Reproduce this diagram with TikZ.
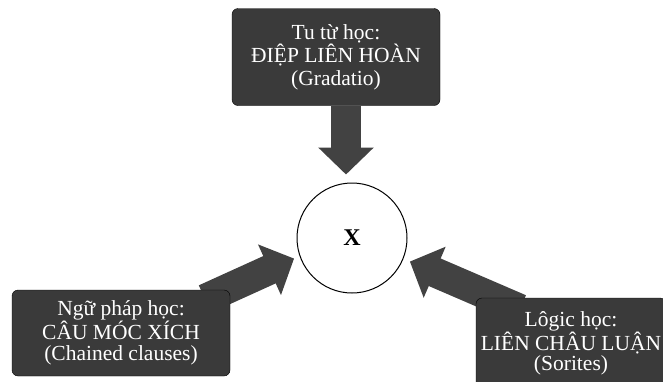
\documentclass[tikz,border=0pt]{standalone}
\usepackage{fontspec}
\setmainfont{Liberation Serif}
\usetikzlibrary{arrows.meta,backgrounds}
\definecolor{BoxGray}{RGB}{58,58,58}
\definecolor{ArrowGray}{RGB}{66,66,66}

\begin{document}
\begin{tikzpicture}[x=1pt,y=-1pt,
  box/.style={draw=black,fill=BoxGray,rounded corners=6pt,text=white,align=center,inner sep=0pt},
  fat/.style={ArrowGray,line width=30pt,-{Triangle[width=54pt,length=27pt]}}]
\useasboundingbox (0,0) rectangle (663,381);
\node[box,minimum width=208pt,minimum height=97pt,font=\fontsize{21.5}{23}\selectfont] (top) at (336,57) {Tu từ học:\\ĐIỆP LIÊN HOÀN\\(Gradatio)};
\node[box,minimum width=218pt,minimum height=86pt,font=\fontsize{21.5}{21.5}\selectfont] (left) at (121,333) {Ngữ pháp học:\\CÂU MÓC XÍCH\\(Chained clauses)};
\node[box,minimum width=190pt,minimum height=90pt,font=\fontsize{21.5}{20}\selectfont] (right) at (571,343) {Lôgic học:\\LIÊN CHÂU LUẬN\\(Sorites)};
\node[draw,circle,line width=1pt,minimum size=110pt,font=\bfseries\fontsize{24}{24}\selectfont] (x) at (352,238) {X};
\begin{scope}[on background layer]
\draw[fat,shorten >=8pt] ([xshift=10pt]top.south) -- ([xshift=-6pt]x.north);
\draw[fat,shorten >=6pt] ([shift={(84,-34)}]left.center) -- (x.199);
\draw[fat,shorten >=7pt] ([shift={(-51,-34)}]right.center) -- (x.338);
\end{scope}
\end{tikzpicture}
\end{document}
